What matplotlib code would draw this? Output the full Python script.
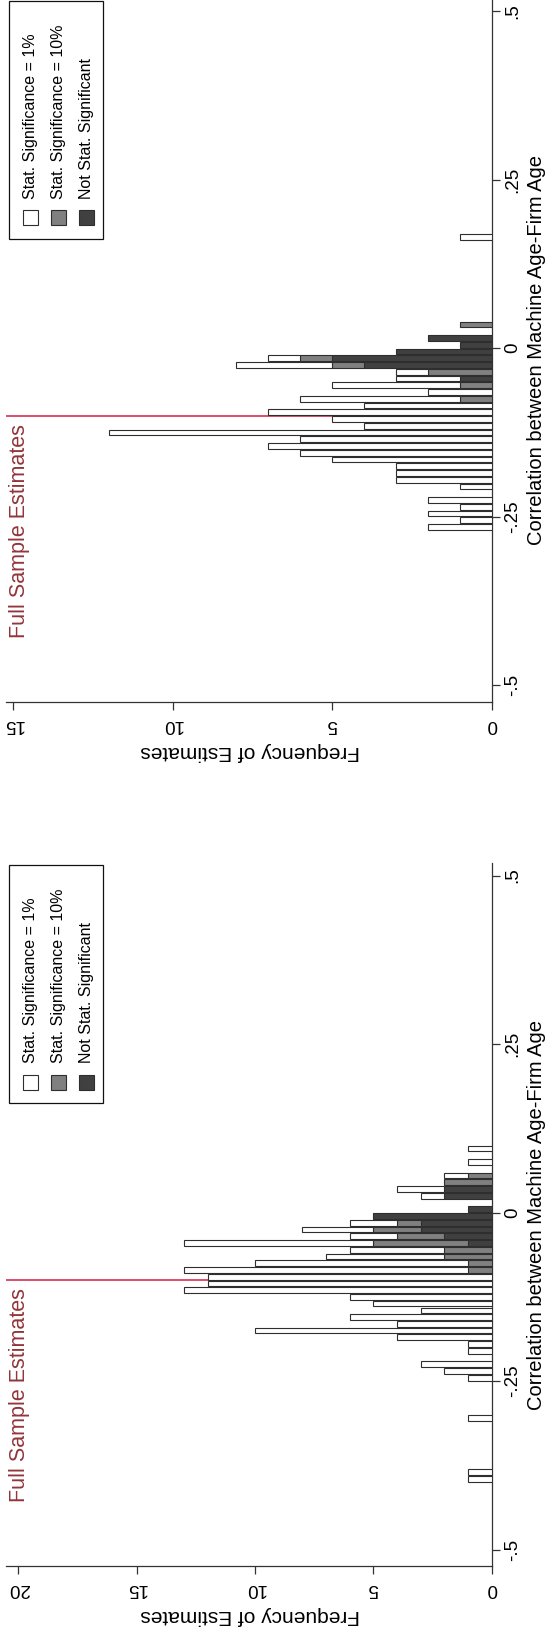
import numpy as np
import matplotlib.pyplot as plt
from matplotlib.patches import Rectangle
from matplotlib.transforms import blended_transform_factory

plt.rcParams['font.family'] = ['Liberation Sans', 'DejaVu Sans']

W, H = 551, 1627
bin_width = 0.01
full_sample = -0.10

# top panel: lower bin edges and counts by significance group
top_bins = [0.16, 0.03, 0.01, 0.00, -0.01, -0.02, -0.03, -0.04, -0.05, -0.06,
            -0.07, -0.08, -0.09, -0.10, -0.11, -0.12, -0.13, -0.14, -0.15, -0.16,
            -0.17, -0.18, -0.19, -0.20, -0.21, -0.23, -0.24, -0.25, -0.26, -0.27]
top_sig1 = [1, 0, 0, 0, 0, 1, 3, 1, 2, 4,
            2, 5, 4, 7, 5, 4, 12, 6, 7, 6,
            5, 3, 3, 3, 1, 2, 1, 2, 1, 2]
top_sig10 = [0, 1, 0, 0, 0, 1, 1, 2, 0, 1,
             0, 1, 0, 0, 0, 0, 0, 0, 0, 0,
             0, 0, 0, 0, 0, 0, 0, 0, 0, 0]
top_notsig = [0, 0, 2, 1, 3, 5, 4, 0, 1, 0,
              0, 0, 0, 0, 0, 0, 0, 0, 0, 0,
              0, 0, 0, 0, 0, 0, 0, 0, 0, 0]

# bottom panel
bot_bins = [0.09, 0.07, 0.05, 0.04, 0.03, 0.02, 0.00, -0.01, -0.02, -0.03,
            -0.04, -0.05, -0.06, -0.07, -0.08, -0.09, -0.10, -0.11, -0.12, -0.13,
            -0.14, -0.15, -0.16, -0.17, -0.18, -0.19, -0.20, -0.21, -0.23, -0.24,
            -0.25, -0.31, -0.39, -0.40]
bot_sig1 = [1, 1, 1, 0, 2, 1, 0, 0, 2, 3,
            2, 8, 4, 5, 9, 12, 12, 12, 13, 6,
            5, 3, 6, 4, 10, 4, 1, 1, 3, 2,
            1, 1, 1, 1]
bot_sig10 = [0, 0, 1, 2, 0, 0, 0, 0, 1, 2,
             2, 4, 2, 2, 1, 1, 0, 0, 0, 0,
             0, 0, 0, 0, 0, 0, 0, 0, 0, 0,
             0, 0, 0, 0]
bot_notsig = [0, 0, 0, 0, 2, 2, 1, 5, 3, 3,
              2, 1, 0, 0, 0, 0, 0, 0, 0, 0,
              0, 0, 0, 0, 0, 0, 0, 0, 0, 0,
              0, 0, 0, 0]

corr_ticks = [-0.5, -0.25, 0, 0.25, 0.5]
corr_labels = ['-.5', '-.25', '0', '.25', '.5']
legend_labels = ['Stat. Significance = 1%', 'Stat. Significance = 10%',
                 'Not Stat. Significant']
colors = ['white', '#808080', '#404040']
edge = '#2e2e2e'
axis_col = '#333333'


def px(x, y):
    return x / W, 1 - y / H


def draw_panel(ax, bins, sig1, sig10, notsig, fmax, fticks, dy):
    bins = np.array(bins) + bin_width / 2
    groups = [np.array(notsig), np.array(sig10), np.array(sig1)]
    fills = [colors[2], colors[1], colors[0]]
    left = np.zeros(len(bins))
    for cnt, fc in zip(groups, fills):
        m = cnt > 0
        ax.barh(bins[m], cnt[m], left=left[m], height=bin_width * 0.85,
                color=fc, edgecolor=edge, linewidth=0.8, zorder=3)
        left = left + cnt

    ax.axhline(full_sample, color='#d21e46', lw=1.1, zorder=1)
    tr = blended_transform_factory(ax.transAxes, ax.transData)
    ax.text(0.027, full_sample - 0.012, 'Full Sample Estimates', transform=tr,
            rotation=90, rotation_mode='anchor', ha='right', va='center',
            color='#93353b', fontsize=15.5)

    ax.set_xlim(fmax, 0)
    ax.set_ylim(-0.5246, 0.519)
    for sp in ['top', 'left']:
        ax.spines[sp].set_visible(False)
    for sp in ['right', 'bottom']:
        ax.spines[sp].set_color(axis_col)
        ax.spines[sp].set_linewidth(0.9)
    ax.yaxis.tick_right()
    ax.set_yticks(corr_ticks)
    ax.set_yticklabels(corr_labels)
    ax.set_xticks(fticks)
    ax.tick_params(axis='y', direction='out', length=5.8, width=0.9,
                   color=axis_col, labelrotation=90, labelsize=13.5, pad=3)
    ax.tick_params(axis='x', direction='out', length=5.8, width=0.9,
                   color=axis_col, labelrotation=180, labelsize=13.5, pad=4)
    for lab in ax.get_yticklabels():
        lab.set_va('center')

    ax.set_xlabel('Frequency of Estimates', fontsize=15, rotation=180)
    ax.xaxis.set_label_coords(0.502, -0.0705)
    ax.xaxis.label.set_va('center')
    ax.yaxis.set_label_position('right')
    ax.set_ylabel('Correlation between Machine Age-Firm Age', fontsize=14.5,
                  rotation=90)
    ax.yaxis.set_label_coords(1.093, 0.5)
    ax.yaxis.label.set_va('center')

    # legend, drawn by hand because the text runs vertically
    fig = ax.figure
    x0, y0 = px(9, 1103 - dy)
    x1, y1 = px(103, 865 - dy)
    fig.add_artist(Rectangle((x0, y0), x1 - x0, y1 - y0, transform=fig.transFigure,
                             facecolor='white', edgecolor='#111111', lw=0.9,
                             zorder=5))
    for i, (lab, fc) in enumerate(zip(legend_labels, colors)):
        cx = 30 + 28 * i
        sx, sy = px(cx - 7.5, 1089.5 - dy)
        fig.add_artist(Rectangle((sx, sy), 15 / W, 15 / H,
                                 transform=fig.transFigure, facecolor=fc,
                                 edgecolor=edge, lw=0.8, zorder=6))
        tx, ty = px(cx, 1063 - dy)
        fig.text(tx, ty, lab, rotation=90, rotation_mode='anchor', ha='left',
                 va='center', fontsize=11.5, zorder=6)


fig = plt.figure(figsize=(W / 100, H / 100), dpi=100)
ax_top = fig.add_axes([6 / W, (H - 701.9) / H, 485.7 / W, 703.6 / H])
ax_bot = fig.add_axes([6 / W, (H - 1566.3) / H, 485.7 / W, 703.6 / H])

draw_panel(ax_top, top_bins, top_sig1, top_sig10, top_notsig, 15.22,
           [0, 5, 10, 15], 864.4)
draw_panel(ax_bot, bot_bins, bot_sig1, bot_sig10, bot_notsig, 20.52,
           [0, 5, 10, 15, 20], 0)

fig.savefig('out.png', dpi=100)
